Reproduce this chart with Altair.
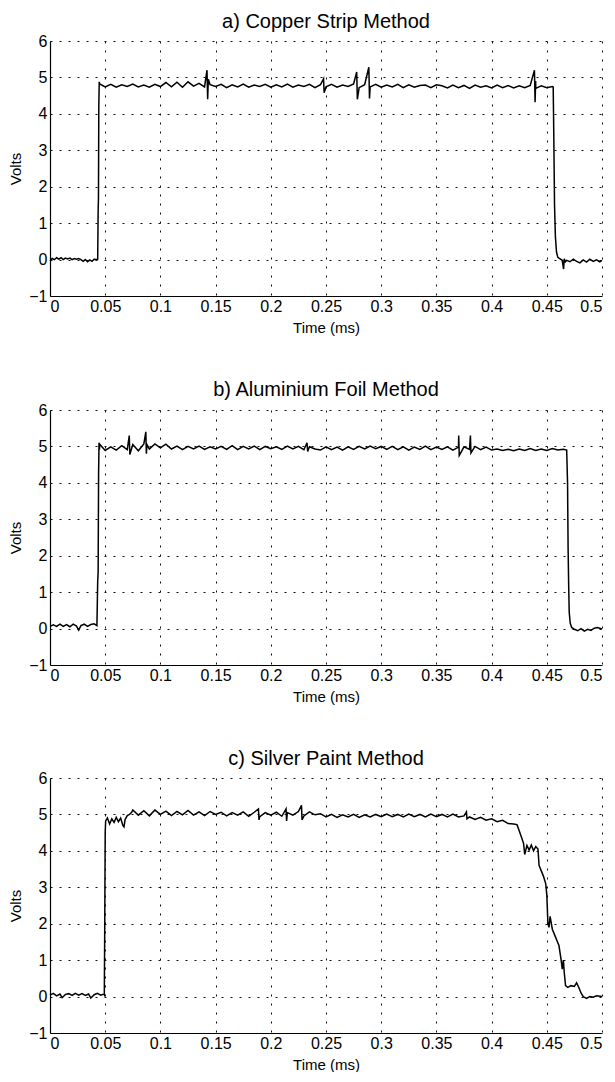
import altair as alt
import pandas as pd

# ---------------- tick labels ----------------
x_ticks = [0, 0.05, 0.1, 0.15, 0.2, 0.25, 0.3, 0.35, 0.4, 0.45, 0.5]
y_ticks = [-1, 0, 1, 2, 3, 4, 5, 6]

titles = ["a) Copper Strip Method", "b) Aluminium Foil Method", "c) Silver Paint Method"]

# ---------------- a) Copper strip ----------------
a_time = [
    0.000, 0.002, 0.004, 0.006, 0.008, 0.010, 0.012, 0.014, 0.016, 0.018,
    0.020, 0.022, 0.024, 0.026, 0.028, 0.030, 0.032, 0.034, 0.036, 0.038,
    0.040, 0.042, 0.0432,
    0.0436, 0.0439, 0.0442, 0.0446,
    0.045, 0.050, 0.055, 0.060, 0.065, 0.070, 0.075, 0.080, 0.085, 0.090, 0.095, 0.100,
    0.105, 0.110, 0.115, 0.120, 0.125, 0.130, 0.135, 0.140, 0.145, 0.150,
    0.155, 0.160, 0.165, 0.170, 0.175, 0.180, 0.185, 0.190, 0.195, 0.200,
    0.205, 0.210, 0.215, 0.220, 0.225, 0.230, 0.235, 0.240, 0.245, 0.250,
    0.255, 0.260, 0.265, 0.270, 0.275, 0.280, 0.285, 0.290, 0.295, 0.300,
    0.305, 0.310, 0.315, 0.320, 0.325, 0.330, 0.335, 0.340, 0.345, 0.350,
    0.355, 0.360, 0.365, 0.370, 0.375, 0.380, 0.385, 0.390, 0.395, 0.400,
    0.405, 0.410, 0.415, 0.420, 0.425, 0.430, 0.435, 0.440, 0.445, 0.450, 0.455,
    0.1422, 0.1428, 0.1434, 0.2478, 0.2483, 0.2778, 0.2784, 0.2888, 0.2894,
    0.4388, 0.4394, 0.4399,
    0.4558, 0.4563, 0.4570, 0.4578, 0.4588, 0.4600, 0.4620, 0.4640, 0.4652,
    0.4658, 0.4668,
    0.468, 0.471, 0.474, 0.477, 0.480, 0.483, 0.486, 0.489, 0.492, 0.495,
    0.498, 0.500,
]
a_volts = [
    -0.04, 0.03, 0.00, 0.05, 0.01, 0.05, 0.00, 0.04, 0.02, 0.04,
    0.00, 0.03, 0.01, 0.03, 0.00, -0.05, 0.00, -0.06, -0.01, -0.05,
    0.01, 0.00, 0.01,
    1.30, 1.70, 4.20, 4.88,
    4.82, 4.74, 4.81, 4.73, 4.80, 4.75, 4.82, 4.74, 4.79, 4.73, 4.81, 4.75,
    4.86, 4.74, 4.87, 4.73, 4.88, 4.76, 4.84, 4.74, 4.80, 4.75,
    4.81, 4.72, 4.80, 4.74, 4.82, 4.73, 4.79, 4.75, 4.81, 4.73,
    4.80, 4.74, 4.82, 4.73, 4.79, 4.75, 4.81, 4.72, 4.80, 4.74,
    4.81, 4.73, 4.79, 4.75, 4.82, 4.72, 4.80, 4.74, 4.81, 4.73,
    4.79, 4.74, 4.81, 4.72, 4.80, 4.73, 4.78, 4.79, 4.72, 4.80,
    4.77, 4.71, 4.79, 4.72, 4.78, 4.70, 4.79, 4.73, 4.77, 4.71,
    4.79, 4.72, 4.78, 4.71, 4.77, 4.72, 4.78, 4.70, 4.77, 4.72, 4.75,
    5.20, 4.40, 4.95, 4.96, 4.58, 5.15, 4.40, 5.28, 4.42,
    5.20, 4.32, 4.90,
    4.74, 3.50, 1.50, 0.62, 0.20, 0.06, 0.02, -0.02, -0.26,
    0.02, -0.06,
    -0.02, -0.06, 0.01, -0.05, -0.09, -0.01, -0.07, 0.01, -0.05, -0.01,
    -0.06, -0.02,
]

# ---------------- b) Aluminium foil ----------------
b_time = [
    0.000, 0.003, 0.006, 0.009, 0.012, 0.015, 0.018, 0.021, 0.024, 0.026,
    0.028, 0.031, 0.034, 0.037, 0.040, 0.0425,
    0.0432, 0.0436, 0.0440, 0.0444, 0.0448,
    0.045, 0.050, 0.055, 0.060, 0.065, 0.070, 0.075, 0.080, 0.085, 0.090, 0.095, 0.100,
    0.105, 0.110, 0.115, 0.120, 0.125, 0.130, 0.135, 0.140, 0.145, 0.150,
    0.155, 0.160, 0.165, 0.170, 0.175, 0.180, 0.185, 0.190, 0.195, 0.200,
    0.205, 0.210, 0.215, 0.220, 0.225, 0.230, 0.235, 0.240, 0.245, 0.250,
    0.255, 0.260, 0.265, 0.270, 0.275, 0.280, 0.285, 0.290, 0.295, 0.300,
    0.305, 0.310, 0.315, 0.320, 0.325, 0.330, 0.335, 0.340, 0.345, 0.350,
    0.355, 0.360, 0.365, 0.370, 0.375, 0.380, 0.385, 0.390, 0.395, 0.400,
    0.405, 0.410, 0.415, 0.420, 0.425, 0.430, 0.435, 0.440, 0.445, 0.450,
    0.455, 0.460, 0.465,
    0.0718, 0.0723, 0.0868, 0.0873, 0.0878, 0.2328, 0.2334, 0.3702, 0.3707,
    0.3808, 0.3813,
    0.4680, 0.4688, 0.4693, 0.4698, 0.4703, 0.4712, 0.4725,
    0.475, 0.478, 0.481, 0.484, 0.487, 0.490, 0.493, 0.496, 0.500,
]
b_volts = [
    0.06, 0.10, 0.06, 0.12, 0.06, 0.11, 0.05, 0.12, 0.07, -0.04,
    0.08, 0.12, 0.06, 0.11, 0.13, 0.08,
    1.30, 1.55, 4.20, 5.10, 4.92,
    5.06, 4.89, 4.99, 4.90, 5.02, 4.91, 5.05, 4.88, 5.07, 4.93, 5.07, 4.96,
    5.06, 4.93, 5.01, 4.91, 5.00, 4.93, 5.01, 4.92, 4.99, 4.93,
    5.00, 4.92, 5.02, 4.91, 5.00, 4.93, 5.01, 4.91, 5.00, 4.94,
    4.99, 4.92, 5.01, 4.93, 5.00, 4.91, 4.99, 4.93, 4.90, 4.99,
    4.91, 4.98, 4.90, 4.99, 4.92, 5.00, 4.93, 5.01, 4.94, 5.00,
    4.92, 5.00, 4.91, 4.99, 4.90, 4.98, 4.92, 5.01, 4.91, 4.98,
    4.92, 4.99, 4.90, 4.98, 4.99, 4.92, 5.00, 4.91, 4.98, 4.90,
    4.93, 4.89, 4.92, 4.88, 4.93, 4.89, 4.94, 4.89, 4.93, 4.89,
    4.94, 4.90, 4.92,
    5.30, 4.78, 5.40, 4.80, 5.05, 5.10, 4.86, 5.30, 4.75,
    5.30, 4.82,
    4.90, 4.00, 2.20, 1.20, 0.45, 0.15, 0.03,
    -0.02, -0.06, 0.00, -0.07, -0.02, -0.05, 0.01, 0.03, -0.01,
]

# ---------------- c) Silver paint ----------------
c_time = [
    0.000, 0.003, 0.006, 0.009, 0.011, 0.014, 0.017, 0.020, 0.023, 0.026,
    0.029, 0.032, 0.035, 0.037, 0.040, 0.043, 0.046, 0.0488,
    0.0492, 0.0496, 0.0500, 0.0504,
    0.052, 0.054, 0.056, 0.058, 0.060, 0.062, 0.064, 0.066, 0.067, 0.068,
    0.070, 0.072, 0.074,
    0.075, 0.080, 0.085, 0.090, 0.095, 0.100,
    0.105, 0.110, 0.115, 0.120, 0.125, 0.130, 0.135, 0.140, 0.145, 0.150,
    0.155, 0.160, 0.165, 0.170, 0.175, 0.180, 0.185, 0.190, 0.195, 0.200,
    0.205, 0.210, 0.215, 0.220, 0.225, 0.230, 0.235, 0.240, 0.245, 0.250,
    0.255, 0.260, 0.265, 0.270, 0.275, 0.280, 0.285, 0.290, 0.295, 0.300,
    0.305, 0.310, 0.315, 0.320, 0.325, 0.330, 0.335, 0.340, 0.345, 0.350,
    0.355, 0.360, 0.365, 0.370, 0.375,
    0.1888, 0.1893, 0.2138, 0.2143, 0.2278, 0.2283, 0.3772, 0.3777,
    0.380, 0.385, 0.390, 0.395, 0.400, 0.405, 0.410, 0.415, 0.420, 0.423,
    0.425, 0.427, 0.429, 0.430, 0.432, 0.434, 0.436, 0.438, 0.440, 0.442,
    0.443, 0.445, 0.447, 0.449, 0.450, 0.451, 0.452, 0.453, 0.455, 0.457,
    0.459, 0.461, 0.463, 0.464, 0.465, 0.466, 0.467, 0.469, 0.472, 0.475,
    0.477, 0.479, 0.481, 0.483, 0.486, 0.489, 0.492, 0.495, 0.500,
]
c_volts = [
    0.04, 0.09, 0.02, 0.07, -0.03, 0.06, 0.08, 0.03, 0.09, 0.04,
    0.08, 0.03, 0.07, -0.04, 0.05, 0.09, 0.04, 0.07,
    0.05, 2.00, 4.50, 4.82,
    4.90, 4.74, 4.88, 4.78, 4.92, 4.80, 4.90, 4.70, 4.66, 4.86,
    4.97, 5.00, 5.06,
    5.12, 4.98, 5.10, 4.96, 5.12, 5.00,
    5.09, 4.97, 5.08, 4.99, 5.11, 4.98, 5.07, 4.97, 5.08, 5.00,
    5.06, 4.96, 5.05, 4.98, 5.07, 4.95, 5.06, 4.94, 5.05, 4.98,
    5.06, 4.95, 5.05, 4.98, 5.08, 4.96, 5.07, 4.99, 5.02, 4.93,
    5.00, 4.92, 4.99, 4.93, 5.00, 4.92, 4.99, 4.93, 5.00, 4.94,
    5.01, 4.94, 5.00, 4.93, 5.01, 4.94, 5.00, 4.93, 5.01, 4.94,
    5.00, 4.93, 5.01, 4.93, 4.96,
    5.15, 4.85, 5.15, 4.82, 5.25, 4.85, 5.07, 4.88,
    4.93, 4.86, 4.92, 4.84, 4.88, 4.80, 4.84, 4.75, 4.74, 4.72,
    4.55, 4.38, 4.20, 3.90, 4.15, 4.02, 4.16, 4.00, 4.12, 4.05,
    3.60, 3.45, 3.30, 3.10, 2.80, 2.00, 1.90, 2.20, 1.85, 1.70,
    1.55, 1.40, 1.00, 0.75, 1.00, 0.60, 0.30, 0.25, 0.30, 0.28,
    0.38, 0.25, 0.10, 0.00, -0.05, 0.00, -0.02, 0.02, 0.00,
]

series = [(a_time, a_volts), (b_time, b_volts), (c_time, c_volts)]
for t, v in series:
    assert len(t) == len(v), (len(t), len(v))

FONT = "Liberation Sans"


def panel(title, times, volts, offset):
    df = pd.DataFrame({"t": times, "v": volts})
    return (
        alt.Chart(df)
        .mark_line(color="black", strokeWidth=1.5, interpolate="linear")
        .encode(
            x=alt.X(
                "t:Q",
                scale=alt.Scale(domain=[0, 0.5], nice=False, zero=False),
                axis=alt.Axis(values=x_ticks, format="~g", title="Time (ms)",
                              labelPadding=2, titlePadding=6),
            ),
            y=alt.Y(
                "v:Q",
                scale=alt.Scale(domain=[-1, 6], nice=False, zero=False),
                axis=alt.Axis(values=y_ticks, format="d", title="Volts",
                              labelPadding=3, titlePadding=5),
            ),
        )
        .properties(
            width=552,
            height=255,
            title=alt.TitleParams(title, fontSize=20, font=FONT, fontWeight="normal",
                                  color="black", offset=offset),
        )
    )


chart = (
    alt.vconcat(
        panel(titles[0], a_time, a_volts, 1),
        panel(titles[1], b_time, b_volts, 2),
        panel(titles[2], c_time, c_volts, 1),
        spacing=45,
    )
    .properties(padding={"left": 0, "top": 4, "right": 0, "bottom": 0})
    .configure_view(strokeWidth=0)
    .configure_axis(
        labelFont=FONT,
        labelFontSize=16,
        labelColor="black",
        titleFont=FONT,
        titleFontSize=15,
        titleFontWeight="normal",
        titleColor="black",
        domainColor="black",
        domainWidth=1.2,
        ticks=False,
        grid=True,
        gridColor="#111111",
        gridDash=[2, 7],
        gridOpacity=1,
        gridWidth=1,
    )
)

chart.save("out.html", embed_options={"renderer": "svg", "actions": False})
